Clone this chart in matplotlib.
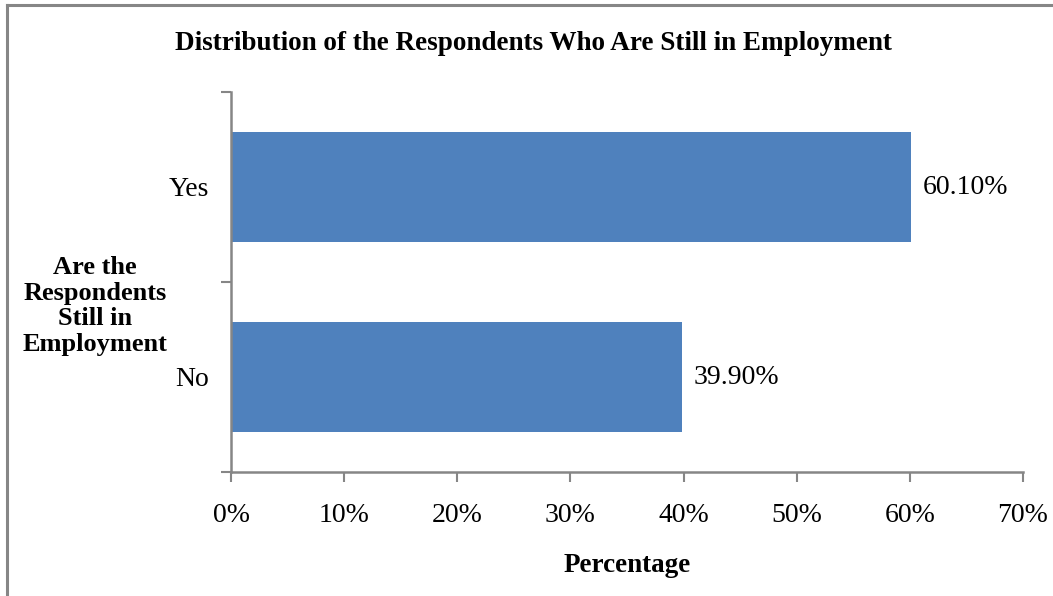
import matplotlib
matplotlib.use('Agg')
import matplotlib.pyplot as plt
from matplotlib.lines import Line2D

plt.rcParams['font.family'] = ['Liberation Serif', 'DejaVu Serif']

categories = ['No', 'Yes']
values = [39.9, 60.1]
value_labels = ['39.90%', '60.10%']
x_ticks = [0, 10, 20, 30, 40, 50, 60, 70]

axis_col = '#868686'
bar_col = '#4F81BD'

fig = plt.figure(figsize=(10.53, 5.96), dpi=100)
ax = fig.add_axes([231 / 1053, 1 - 472 / 596, (1023 - 231) / 1053, (472 - 92) / 596])

pos = range(len(categories))
ax.barh(pos, values, height=0.575, color=bar_col)
for p, v, lab in zip(pos, values, value_labels):
    ax.text(v + 1.0, p, lab, va='center', ha='left', fontsize=20)

ax.set_xlim(0, 70)
ax.set_ylim(-0.5, 1.5)
ax.set_xticks(x_ticks)
ax.set_xticklabels([f'{t}%' for t in x_ticks], fontsize=20)
ax.set_yticks(pos)
ax.set_yticklabels(categories, fontsize=20)
ax.set_yticks([-0.5, 0.5, 1.5], minor=True)
ax.tick_params(axis='y', which='major', length=0, pad=16)
ax.tick_params(axis='y', which='minor', length=7, width=1.5, color=axis_col)
ax.tick_params(axis='x', length=7, width=1.5, color=axis_col, pad=15)

for s in ['top', 'right']:
    ax.spines[s].set_visible(False)
for s in ['left', 'bottom']:
    ax.spines[s].set_color(axis_col)
    ax.spines[s].set_linewidth(1.8)

ax.set_xlabel('Percentage', fontsize=19.5, fontweight='bold', labelpad=18)
fig.text(95 / 1053, 1 - 306 / 596, 'Are the\nRespondents\nStill in\nEmployment',
         ha='center', va='center', fontsize=19, fontweight='bold', linespacing=1.15)
fig.text(533 / 1053, 1 - 43 / 596, 'Distribution of the Respondents Who Are Still in Employment',
         ha='center', va='center', fontsize=19.5, fontweight='bold')

# chart frame (top and left edges visible)
fig.add_artist(Line2D([7 / 1053, 7 / 1053], [0, 1 - 5 / 596], color=axis_col, lw=2.2,
                      transform=fig.transFigure))
fig.add_artist(Line2D([7 / 1053, 1], [1 - 5 / 596, 1 - 5 / 596], color=axis_col, lw=2.2,
                      transform=fig.transFigure))

fig.savefig('out.png', dpi=100)
